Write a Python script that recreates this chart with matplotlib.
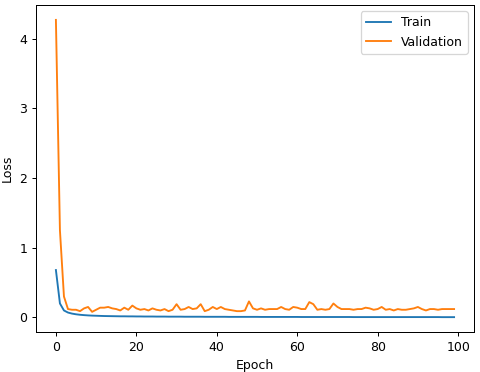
import numpy as np
import matplotlib
matplotlib.use("Agg")
import matplotlib.pyplot as plt

# loss per epoch
train_loss = [
    0.68, 0.20, 0.10, 0.070, 0.055, 0.045, 0.038, 0.033, 0.029, 0.026,
    0.024, 0.022, 0.020, 0.019, 0.018, 0.017, 0.016, 0.016, 0.015, 0.015,
    0.014, 0.014, 0.013, 0.013, 0.013, 0.012, 0.012, 0.012, 0.011, 0.011,
    0.011, 0.011, 0.010, 0.010, 0.010, 0.010, 0.010, 0.009, 0.009, 0.009,
    0.009, 0.009, 0.009, 0.008, 0.008, 0.008, 0.008, 0.008, 0.008, 0.008,
    0.008, 0.007, 0.007, 0.007, 0.007, 0.007, 0.007, 0.007, 0.007, 0.007,
    0.007, 0.006, 0.006, 0.006, 0.006, 0.006, 0.006, 0.006, 0.006, 0.006,
    0.006, 0.006, 0.006, 0.006, 0.005, 0.005, 0.005, 0.005, 0.005, 0.005,
    0.005, 0.005, 0.005, 0.005, 0.005, 0.005, 0.005, 0.005, 0.005, 0.005,
    0.005, 0.005, 0.005, 0.005, 0.005, 0.005, 0.004, 0.004, 0.004, 0.004,
]
val_loss = [
    4.27, 1.25, 0.30, 0.12, 0.11, 0.11, 0.09, 0.13, 0.15, 0.08,
    0.11, 0.14, 0.14, 0.15, 0.13, 0.12, 0.10, 0.14, 0.11, 0.17,
    0.13, 0.11, 0.12, 0.10, 0.13, 0.11, 0.10, 0.12, 0.09, 0.11,
    0.19, 0.11, 0.12, 0.15, 0.12, 0.13, 0.19, 0.09, 0.11, 0.15,
    0.12, 0.15, 0.12, 0.11, 0.10, 0.09, 0.09, 0.10, 0.23, 0.13,
    0.11, 0.13, 0.11, 0.12, 0.12, 0.12, 0.15, 0.12, 0.11, 0.15,
    0.14, 0.12, 0.12, 0.22, 0.19, 0.11, 0.12, 0.11, 0.12, 0.20,
    0.15, 0.12, 0.12, 0.12, 0.11, 0.12, 0.12, 0.14, 0.13, 0.11,
    0.12, 0.15, 0.11, 0.12, 0.10, 0.12, 0.11, 0.11, 0.12, 0.13,
    0.15, 0.12, 0.10, 0.12, 0.12, 0.11, 0.12, 0.12, 0.12, 0.12,
]
epochs = np.arange(len(train_loss))

fig = plt.figure(figsize=(480 / 90, 372 / 90), dpi=90)
ax = fig.add_axes([0.075, 0.1075, 0.9125, 0.879])
ax.plot(epochs, train_loss, label="Train")
ax.plot(epochs, val_loss, label="Validation")
ax.set_xlabel("Epoch")
ax.set_ylabel("Loss")
ax.legend(loc="upper right")
fig.savefig("out.png", dpi=90)
